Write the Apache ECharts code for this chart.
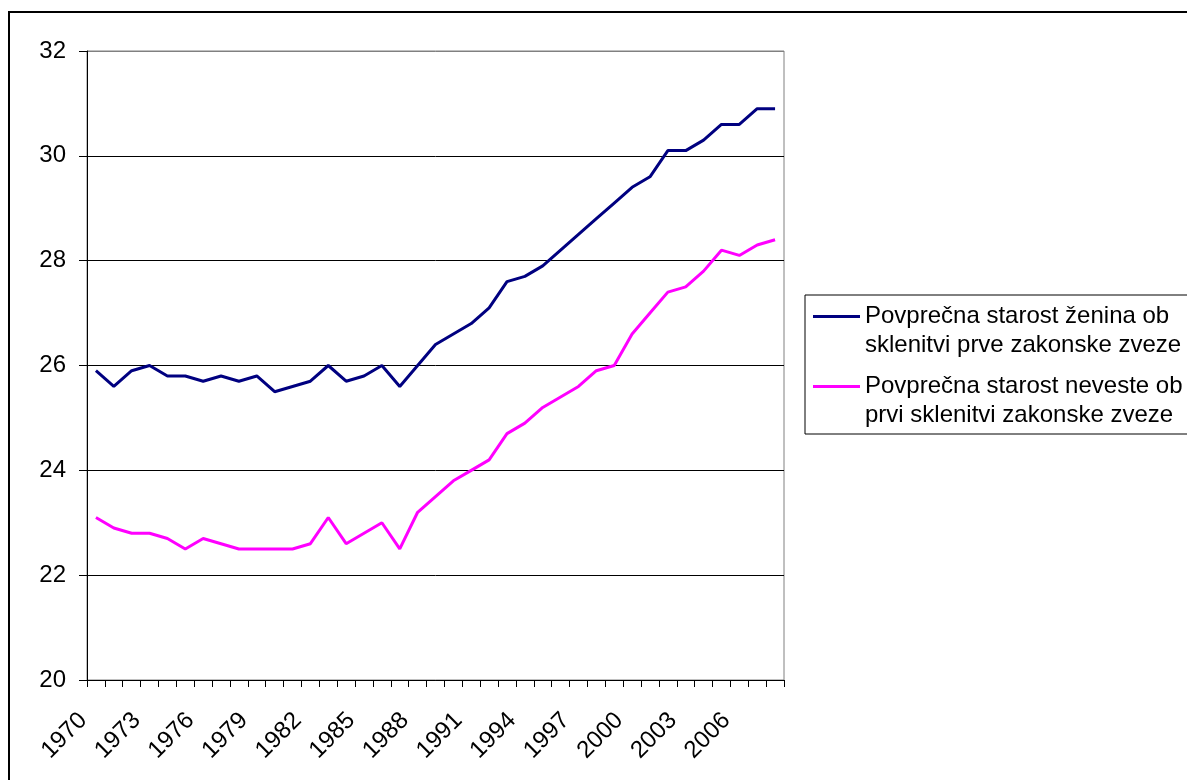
<!DOCTYPE html>
<html>
<head>
<meta charset="utf-8">
<script src="https://cdn.jsdelivr.net/npm/echarts@6/dist/echarts.min.js"></script>
<style>
html,body{margin:0;padding:0;background:#fff;}
#chart{width:1187px;height:780px;}
</style>
</head>
<body>
<div id="chart"></div>
<script>
var years = ['1970','1971','1972','1973','1974','1975','1976','1977','1978','1979',
  '1980','1981','1982','1983','1984','1985','1986','1987','1988','1989',
  '1990','1991','1992','1993','1994','1995','1996','1997','1998','1999',
  '2000','2001','2002','2003','2004','2005','2006','2007','2008'];

var grooms = [25.9,25.6,25.9,26.0,25.8,25.8,25.7,25.8,25.7,25.8,
  25.5,25.6,25.7,26.0,25.7,25.8,26.0,25.6,26.0,26.4,
  26.6,26.8,27.1,27.6,27.7,27.9,28.2,28.5,28.8,29.1,
  29.4,29.6,30.1,30.1,30.3,30.6,30.6,30.9,30.9];

var brides = [23.1,22.9,22.8,22.8,22.7,22.5,22.7,22.6,22.5,22.5,
  22.5,22.5,22.6,23.1,22.6,22.8,23.0,22.5,23.2,23.5,
  23.8,24.0,24.2,24.7,24.9,25.2,25.4,25.6,25.9,26.0,
  26.6,27.0,27.4,27.5,27.8,28.2,28.1,28.3,28.4];

var seriesNames = ['Povprečna starost ženina ob sklenitvi prve zakonske zveze',
                   'Povprečna starost neveste ob prvi sklenitvi zakonske zveze'];
var legendLines = {};
legendLines[seriesNames[0]] = ['Povprečna starost ženina ob', 'sklenitvi prve zakonske zveze'];
legendLines[seriesNames[1]] = ['Povprečna starost neveste ob', 'prvi sklenitvi zakonske zveze'];

var yMin = 20, yMax = 32, yStep = 2;

var FONT = '"Liberation Sans", Arial, sans-serif';
var chart = echarts.init(document.getElementById('chart'), null, {renderer: 'canvas'});

var option = {
  animation: false,
  backgroundColor: '#ffffff',
  textStyle: {fontFamily: FONT},
  graphic: [{
    type: 'rect',
    shape: {x: 9, y: 12, width: 1400, height: 1000},
    style: {fill: 'none', stroke: '#000', lineWidth: 2},
    z: -1
  }],
  grid: {
    left: 87, right: 403, top: 51, bottom: 100,
    show: true, borderColor: '#808080', borderWidth: 1, backgroundColor: '#fff'
  },
  legend: {
    orient: 'vertical',
    left: 805, top: 295,
    padding: [7, 40, 4, 8],
    itemGap: 12,
    itemWidth: 47,
    itemHeight: 58,
    icon: 'path://M0,0M0,13L47,13L47,16L0,16ZM0,58',
    itemStyle: {borderWidth: 0},
    borderColor: '#000', borderWidth: 1,
    backgroundColor: '#fff',
    textStyle: {fontFamily: FONT, fontSize: 24, color: '#000', lineHeight: 29},
    formatter: function (name) { return legendLines[name].join('\n'); },
    data: seriesNames
  },
  xAxis: {
    type: 'category',
    data: years,
    boundaryGap: true,
    axisLine: {lineStyle: {color: '#000', width: 1}},
    axisTick: {show: true, interval: 0, length: 7, lineStyle: {color: '#000'}},
    axisLabel: {interval: 2, rotate: 45, fontSize: 24, color: '#000', fontFamily: FONT,
                margin: 24, padding: [0, 18, 0, 0]},
    splitLine: {show: false}
  },
  yAxis: {
    type: 'value',
    min: yMin, max: yMax, interval: yStep,
    axisLine: {show: true, lineStyle: {color: '#000', width: 1}},
    axisTick: {show: true, length: 8, lineStyle: {color: '#000'}},
    axisLabel: {fontSize: 24, color: '#000', fontFamily: FONT, margin: 21},
    splitLine: {show: true, lineStyle: {color: ['#000','#000','#000','#000','#000','#000','#808080'], width: 1}}
  },
  series: [{
    name: seriesNames[0],
    type: 'line',
    data: grooms,
    symbol: 'none',
    lineStyle: {color: '#000080', width: 3},
    itemStyle: {color: '#000080'}
  }, {
    name: seriesNames[1],
    type: 'line',
    data: brides,
    symbol: 'none',
    lineStyle: {color: '#FF00FF', width: 3},
    itemStyle: {color: '#FF00FF'}
  }]
};
chart.setOption(option);
</script>
</body>
</html>
